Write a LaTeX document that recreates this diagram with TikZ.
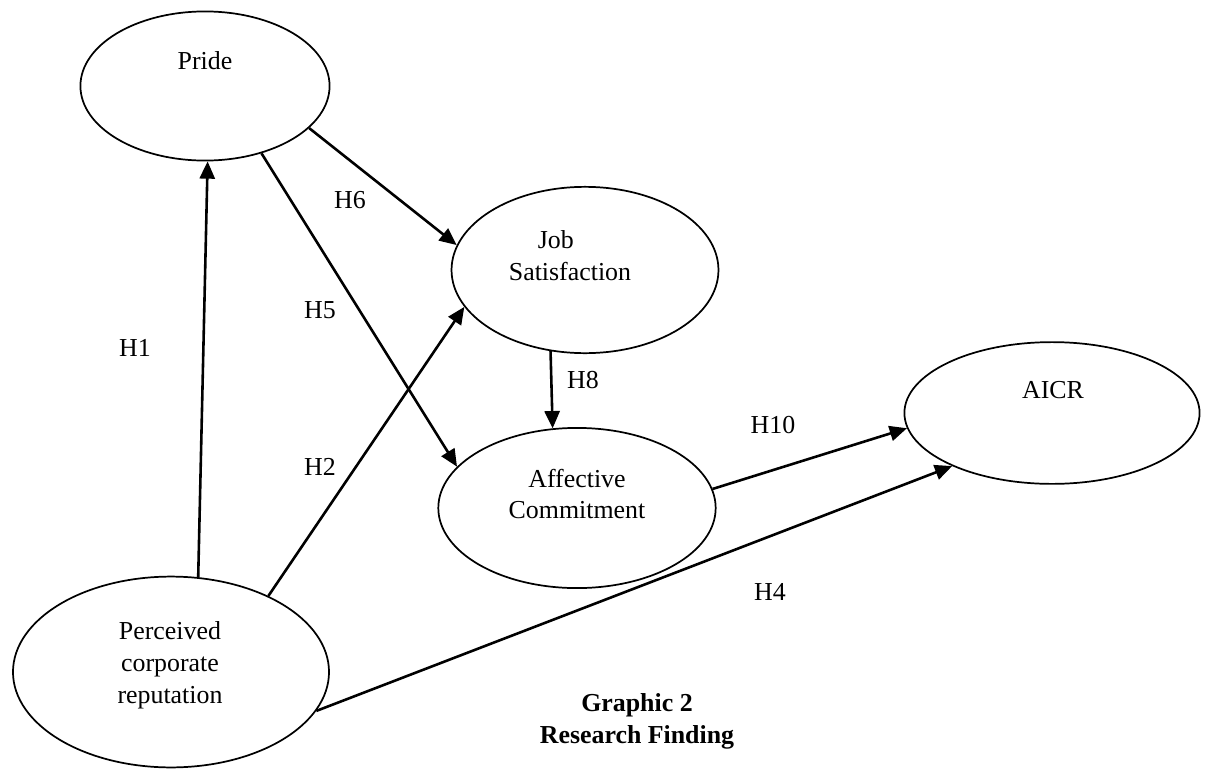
\documentclass[tikz,border=0pt]{standalone}
\usepackage{fontspec}
\setmainfont{Liberation Serif}
\usetikzlibrary{arrows.meta,shapes.geometric}

\tikzset{
  construct/.style={ellipse, draw, line width=0.8pt, inner sep=0pt},
  hyp/.style={-{Triangle[length=8pt,width=7pt]}, line width=1.2pt},
  tag/.style={inner sep=0pt, align=center}
}

\begin{document}
\begin{tikzpicture}[x=0.0163cm, y=-0.0163cm, font=\fontsize{12}{14.8}\selectfont]
    \useasboundingbox (0,0) rectangle (1207,769);

    % Constructos
    \node[construct, minimum width=4.06cm, minimum height=2.43cm] (pride) at (205,86) {};
    \node[construct, minimum width=4.35cm, minimum height=2.71cm] (job) at (585,270) {};
    \node[construct, minimum width=4.52cm, minimum height=2.61cm] (aff) at (577,508) {};
    \node[construct, minimum width=4.81cm, minimum height=2.31cm] (aicr) at (1052,413) {};
    \node[construct, minimum width=5.15cm, minimum height=3.11cm] (pcr) at (171,672) {};

    % Textos
    \node[tag] (pride-t) at (205,61) {Pride};
    \node[tag] (job-t) at (570,256) {Job\hspace*{1.1em}\\Satisfaction};
    \node[tag] (aff-t) at (577,494) {Affective\\Commitment};
    \node[tag] (aicr-t) at (1053,390) {AICR};
    \node[tag] (pcr-t) at (170,665) {Perceived\\corporate\\reputation};

    % Hipotesis
    \draw[hyp] (pcr.74) -- (pride.-88);
    \draw[hyp] (pcr.38) -- (job.-163);
    \draw[hyp] (pride.-22) -- (job.169);
    \draw[hyp] (pride.-50) -- (aff.161);
    \draw[hyp] (job.-113) -- (aff.107);
    \draw[hyp] (aff.8) -- (aicr.-174);
    \draw[hyp] (pcr.-15) -- (aicr.-152);

    % Etiquetas
    \node[tag] (h1) at (135,348) {H1};
    \node[tag] (h2) at (320,467) {H2};
    \node[tag] (h4) at (770,592) {H4};
    \node[tag] (h5) at (320,310) {H5};
    \node[tag] (h6) at (350,200) {H6};
    \node[tag] (h8) at (583,380) {H8};
    \node[tag] (h10) at (773,425) {H10};

    % Titulo
    \node[tag, font=\fontsize{12}{14.8}\selectfont\bfseries] (title) at (637,721) {Graphic 2\\Research Finding};
\end{tikzpicture}
\end{document}
